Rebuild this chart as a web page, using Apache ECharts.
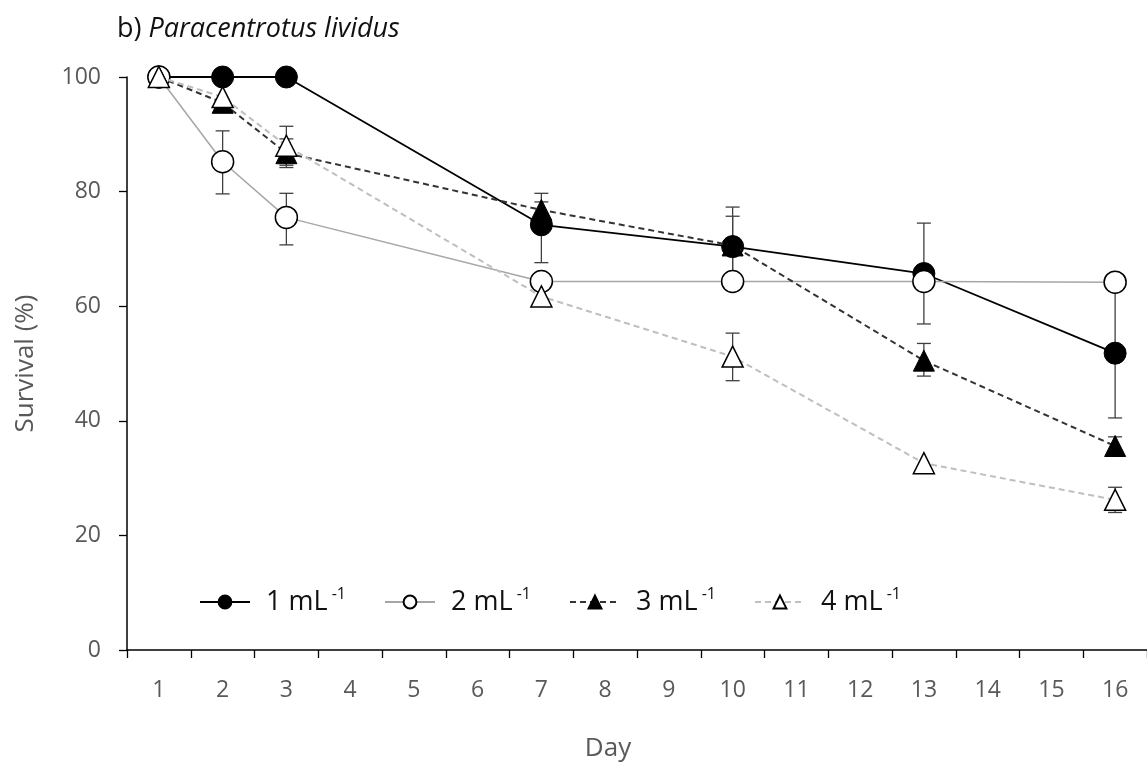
<!DOCTYPE html>
<html lang="en">
<head>
    <meta charset="UTF-8" />
    <title>Paracentrotus lividus survival</title>
    <style>
        html, body { margin: 0; padding: 0; background: #fff; }
        #container { width: 1147px; height: 767px; }
    </style>
</head>
<body>
    <div id="container"></div>
    <script src="https://cdn.jsdelivr.net/npm/echarts@6/dist/echarts.min.js"></script>
    <script type="text/javascript">
        // x axis categories (days) and the days that were sampled
        var days = ['1','2','3','4','5','6','7','8','9','10','11','12','13','14','15','16'];
        var sampleDays = ['1','2','3','7','10','13','16'];
        var yTicks = [0, 20, 40, 60, 80, 100];

        // survival (%) per density
        var names = ['1 mL', '2 mL', '3 mL', '4 mL'];
        var s1 = [100, 100, 100, 74.2, 70.4, 65.7, 51.8];
        var s2 = [100, 85.2, 75.5, 64.3, 64.3, 64.3, 64.2];
        var s3 = [100, 95.5, 86.7, 76.8, 70.6, 50.5, 35.6];
        var s4 = [100, 96.5, 88.0, 61.7, 51.2, 32.6, 26.2];

        // error bars: [day, low, high]
        var e1 = [['7', 67.6, 79.7], ['10', 63.5, 77.3], ['13', 56.9, 74.5], ['16', 40.5, 63.1]];
        var e2 = [['2', 79.6, 90.6], ['3', 70.7, 79.7]];
        var e3 = [['3', 84.2, 89.2], ['7', 75.4, 78.2], ['10', 65.5, 75.7], ['13', 47.8, 53.5], ['16', 34.0, 37.2]];
        var e4 = [['3', 84.6, 91.4], ['10', 47.0, 55.3], ['16', 24.0, 28.4]];

        var FONT = '"Open Sans", "Noto Sans", sans-serif';

        function pairs(vals) {
            return sampleDays.map(function (d, i) { return [d, vals[i]]; });
        }

        function errData(errs) {
            return errs.map(function (e) { return [days.indexOf(e[0]), e[1], e[2]]; });
        }

        function errSeries(errs) {
            return {
                type: 'custom',
                z: 1,
                silent: true,
                encode: { x: 0, y: [1, 2] },
                data: errData(errs),
                renderItem: function (params, api) {
                    var x = api.value(0);
                    var lo = api.coord([x, api.value(1)]);
                    var hi = api.coord([x, api.value(2)]);
                    var w = 7;
                    var st = { stroke: '#404040', lineWidth: 1.3 };
                    return {
                        type: 'group',
                        children: [
                            { type: 'line', shape: { x1: lo[0], y1: lo[1], x2: hi[0], y2: hi[1] }, style: st },
                            { type: 'line', shape: { x1: lo[0] - w, y1: lo[1], x2: lo[0] + w, y2: lo[1] }, style: st },
                            { type: 'line', shape: { x1: hi[0] - w, y1: hi[1], x2: hi[0] + w, y2: hi[1] }, style: st }
                        ]
                    };
                }
            };
        }

        var openItem = { color: '#fff', borderColor: '#000', borderWidth: 1.5 };
        var fillItem = { color: '#000', borderColor: '#000', borderWidth: 1 };

        var myChart = echarts.init(document.getElementById('container'));
        var option = {
            animation: false,
            backgroundColor: '#fff',
            title: {
                text: '{r|b) }{i|Paracentrotus lividus}',
                left: 112,
                top: 11,
                textStyle: {
                    fontWeight: 'normal',
                    rich: {
                        r: { fontFamily: FONT, fontSize: 27, color: '#111', fontWeight: 'normal' },
                        i: { fontFamily: FONT, fontSize: 27, color: '#111', fontWeight: 'normal', fontStyle: 'italic' }
                    }
                }
            },
            grid: {
                left: 127,
                right: 0,
                top: 77,
                bottom: 117,
                containLabel: false,
                outerBoundsMode: 'none'
            },
            legend: {
                left: 194,
                top: 581,
                itemWidth: 50,
                itemHeight: 16,
                itemGap: 38,
                data: names,
                formatter: function (name) {
                    return '{n|' + name + '}{s| -1}';
                },
                textStyle: {
                    rich: {
                        n: { fontFamily: FONT, fontSize: 27, color: '#111', lineHeight: 32, padding: [0, 0, 0, 11] },
                        s: { fontFamily: FONT, fontSize: 16, color: '#111', verticalAlign: 'top', lineHeight: 16, padding: [0, 0, 16, 0] }
                    }
                }
            },
            xAxis: {
                type: 'category',
                data: days,
                boundaryGap: true,
                name: 'Day',
                nameLocation: 'middle',
                nameGap: 86,
                nameTextStyle: { fontFamily: FONT, fontSize: 26, color: '#595959', padding: [0, 58, 0, 0] },
                axisLine: { lineStyle: { color: '#000', width: 1.5 } },
                axisTick: { show: true, length: 8, lineStyle: { color: '#000', width: 1.3 } },
                axisLabel: { fontFamily: FONT, fontSize: 23, color: '#595959', margin: 29 },
                splitLine: { show: false }
            },
            yAxis: {
                type: 'value',
                min: yTicks[0],
                max: yTicks[yTicks.length - 1],
                interval: 20,
                name: 'Survival (%)',
                nameLocation: 'middle',
                nameGap: 88,
                nameTextStyle: { fontFamily: FONT, fontSize: 26, color: '#595959' },
                axisLine: { show: true, lineStyle: { color: '#000', width: 1.5 } },
                axisTick: { show: true, length: 8, lineStyle: { color: '#000', width: 1.3 } },
                axisLabel: { fontFamily: FONT, fontSize: 23, color: '#595959', margin: 26 },
                splitLine: { show: false }
            },
            series: [
                errSeries(e1),
                errSeries(e2),
                errSeries(e3),
                errSeries(e4),
                {
                    name: names[0], type: 'line', z: 3, data: pairs(s1),
                    symbol: 'circle', symbolSize: 22,
                    lineStyle: { color: '#000', width: 1.8 },
                    itemStyle: fillItem
                },
                {
                    name: names[1], type: 'line', z: 4, data: pairs(s2),
                    symbol: 'circle', symbolSize: 22,
                    lineStyle: { color: '#a6a6a6', width: 1.5 },
                    itemStyle: openItem
                },
                {
                    name: names[2], type: 'line', z: 5, data: pairs(s3),
                    symbol: 'triangle', symbolSize: 21,
                    lineStyle: { color: '#333', width: 2, type: [6, 4] },
                    itemStyle: fillItem
                },
                {
                    name: names[3], type: 'line', z: 6, data: pairs(s4),
                    symbol: 'triangle', symbolSize: 21,
                    lineStyle: { color: '#bfbfbf', width: 2, type: [6, 4] },
                    itemStyle: openItem
                }
            ]
        };
        myChart.setOption(option, true);
    </script>
</body>
</html>
